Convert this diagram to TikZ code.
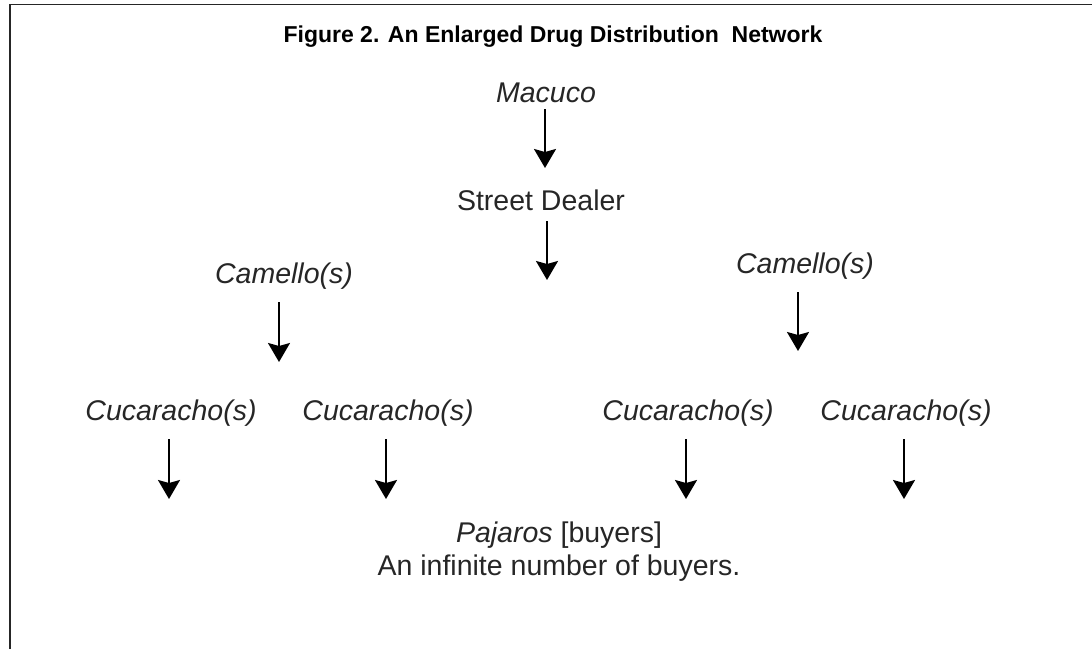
\documentclass[tikz,border=0pt]{standalone}
\usepackage{fontspec}
\setmainfont{Liberation Sans}
\usetikzlibrary{arrows.meta}

\begin{document}
\begin{tikzpicture}[x=1pt,y=-1pt,
        label/.style={font=\fontsize{28.5}{33}\selectfont,text=black!85,anchor=base,inner sep=0pt},
        role/.style={label,font=\fontsize{28.5}{33}\selectfont\itshape},
        flow/.style={line width=2pt,-{Stealth[length=19pt,width=22pt,inset=3pt]}}]
        \useasboundingbox (0,0) rectangle (1092,649);

        % Frame (top and left edges only)
        \draw[line width=1.5pt,black!85] (10,649) -- (10,4.5) -- (1092,4.5);

        % Title
        \node[anchor=base,inner sep=0pt,font=\fontsize{23}{27}\selectfont\bfseries] (title) at (553,42)
            {Figure 2. An Enlarged Drug Distribution\ \ Network};

        % Top of the chain
        \node[role] (macuco) at (546,102) {Macuco};
        \node[label] (dealer) at (541,210) {Street Dealer};
        \coordinate (m1) at (545,109);
        \coordinate (m2) at (545,168);
        \draw[flow] (m1) -- (m2);
        \coordinate (d1) at (547,221);
        \coordinate (d2) at (547,280);
        \draw[flow] (d1) -- (d2);

        % Camellos
        \node[role] (camelloL) at (284,283) {Camello(s)};
        \node[role] (camelloR) at (805,273) {Camello(s)};
        \coordinate (cl1) at (279,302);
        \coordinate (cl2) at (279,362);
        \draw[flow] (cl1) -- (cl2);
        \coordinate (cr1) at (798,292);
        \coordinate (cr2) at (798,351);
        \draw[flow] (cr1) -- (cr2);

        % Cucarachos, each with its arrow down
        \foreach \x/\n in {171/1,388/2,688/3,906/4} {
            \node[role] (cuca\n) at (\x,420) {Cucaracho(s)};
            \coordinate (k\n a) at (\x-2,439);
            \coordinate (k\n b) at (\x-2,499);
            \draw[flow] (k\n a) -- (k\n b);
        }

        % Buyers
        \node[label,align=center,anchor=base] (pajaros) at (559,575)
            {\textit{Pajaros} [buyers]\\An infinite number of buyers.};
    \end{tikzpicture}
\end{document}
